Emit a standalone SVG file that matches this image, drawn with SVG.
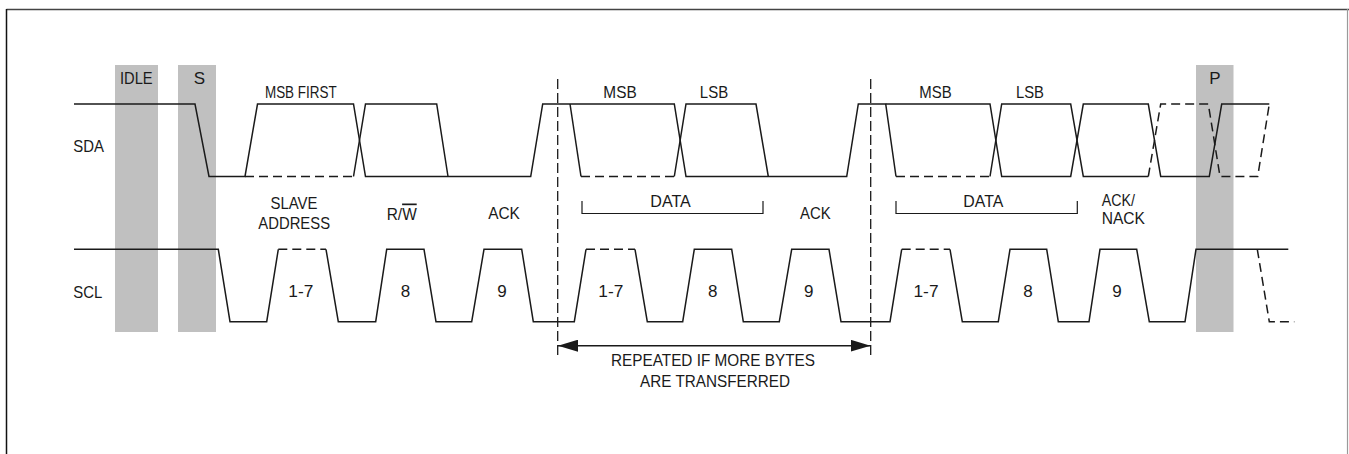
<svg xmlns="http://www.w3.org/2000/svg" width="1349" height="454" viewBox="0 0 1349 454">
<style>
.sig{fill:none;stroke:#1a1a1a;stroke-width:1.5;stroke-linejoin:miter}
.dash{fill:none;stroke:#1a1a1a;stroke-width:1.5;stroke-dasharray:9 5}
.vdash{fill:none;stroke:#1a1a1a;stroke-width:1.3;stroke-dasharray:10 4}
.brk{fill:none;stroke:#1a1a1a;stroke-width:1.2}
.bar{fill:#c0c0c0}
text{font-family:"Liberation Sans",Arial,sans-serif;font-size:17px;fill:#1a1a1a;text-anchor:middle}
.l{text-anchor:start}
</style>
<defs>
<marker id="ah" viewBox="0 0 20 12" refX="20" refY="6" markerWidth="20" markerHeight="12" markerUnits="userSpaceOnUse" orient="auto-start-reverse">
<path d="M0,0 L20,6 L0,12 Z" fill="#1a1a1a"/>
</marker>
</defs>
<g id="frame">
<line x1="6.5" y1="9.5" x2="1349" y2="9.5" stroke="#444" stroke-width="1.5"/>
<line x1="6.5" y1="9" x2="6.5" y2="454" stroke="#111" stroke-width="1.5"/>
<line x1="1347.5" y1="9" x2="1347.5" y2="454" stroke="#9a9a9a" stroke-width="1.2"/>
</g>
<g id="bars">
<rect id="idle-bar" class="bar" x="115" y="65" width="43" height="267"/>
<rect id="start-bar" class="bar" x="178" y="65" width="38" height="267"/>
<rect id="stop-bar" class="bar" x="1196" y="65" width="37.5" height="267"/>
</g>
<g id="sda">
<path class="sig" d="M74,104 H195 L209,176.5 H245 L257.5,104 H353.5 L365.5,176.5 H530.7 L542.7,104 H674.3 L686,176.5 H846.7 L858.3,104 H885.7 L896,176.5"/>
<path class="sig" d="M353.5,176.5 L365.5,104 H436.7 L448,176.5"/>
<path class="sig" d="M570,104 L581,176.5"/>
<path class="sig" d="M674.3,176.5 L686,104 H756 L768.3,176.5"/>
<path class="sig" d="M885.7,104 H990 L1001.7,176.5 H1070.7 L1083.3,104 H1148.3 L1160.7,176.5 H1209.3 L1221.7,104 H1269.3"/>
<path class="sig" d="M990,176.5 L1001.7,104 H1070.7 L1083.3,176.5 H1148.3"/>
<path class="dash" d="M245,176.5 H353.5"/>
<path class="dash" d="M581,176.5 H674.3"/>
<path class="dash" d="M896,176.5 H990"/>
<path class="dash" d="M1148.3,176.5 L1160.7,104 H1208.3 L1220,176.5 H1257.7 L1269.3,104"/>
</g>
<g id="scl">
<path class="sig" d="M74,249.3 H218.3 L230,321.7 H266.7 L278.3,249.3"/>
<path class="sig" d="M326,249.3 L338.3,321.7 H375.7 L386.7,249.3 H424 L436,321.7 H471.7 L484,249.3 H521.7 L533.3,321.7 H574.3 L586,249.3"/>
<path class="sig" d="M635,249.3 L647.3,321.7 H682.7 L694.3,249.3 H731.7 L743.3,321.7 H779.3 L791.7,249.3 H829 L841,321.7 H890 L901.7,249.3"/>
<path class="sig" d="M950,249.3 L962.3,321.7 H998.3 L1010,249.3 H1046.7 L1058.3,321.7 H1089 L1100,249.3 H1136.7 L1149.3,321.7 H1185 L1196,249.3 H1288.3"/>
<path class="dash" d="M278.3,249.3 H326"/>
<path class="dash" d="M586,249.3 H635"/>
<path class="dash" d="M901.7,249.3 H950"/>
<path class="dash" d="M1257.3,249.3 L1269.3,321.7 H1294.3"/>
</g>
<g id="repeat">
<line class="vdash" x1="557.7" y1="79" x2="557.7" y2="358"/>
<line class="vdash" x1="870.7" y1="79" x2="870.7" y2="358"/>
<line x1="558" y1="345.7" x2="870.5" y2="345.7" stroke="#1a1a1a" stroke-width="1.5" marker-start="url(#ah)" marker-end="url(#ah)"/>
<text x="713" y="365.7" textLength="204" lengthAdjust="spacingAndGlyphs">REPEATED IF MORE BYTES</text>
<text x="715" y="386.7" textLength="150" lengthAdjust="spacingAndGlyphs">ARE TRANSFERRED</text>
</g>
<g id="brackets">
<path class="brk" d="M582,201 V213.5 H763 V201"/>
<path class="brk" d="M896,201 V213.5 H1077.3 V201"/>
</g>
<g id="labels">
<text x="136.3" y="83.5" textLength="32.7" lengthAdjust="spacingAndGlyphs">IDLE</text>
<text x="199.5" y="83.5">S</text>
<text x="1215" y="83.5">P</text>
<text x="300.8" y="98.3" textLength="71.7" lengthAdjust="spacingAndGlyphs">MSB FIRST</text>
<text x="620" y="98.3" textLength="33.3" lengthAdjust="spacingAndGlyphs">MSB</text>
<text x="714" y="98.3" textLength="28.3" lengthAdjust="spacingAndGlyphs">LSB</text>
<text x="935.5" y="98.3" textLength="32.4" lengthAdjust="spacingAndGlyphs">MSB</text>
<text x="1030" y="98.3" textLength="28" lengthAdjust="spacingAndGlyphs">LSB</text>
<text class="l" x="73.3" y="151.7" textLength="30.7" lengthAdjust="spacingAndGlyphs">SDA</text>
<text class="l" x="73.3" y="298.3" textLength="29" lengthAdjust="spacingAndGlyphs">SCL</text>
<text x="294" y="208.5" textLength="47" lengthAdjust="spacingAndGlyphs">SLAVE</text>
<text x="294.2" y="229.3" textLength="71.7" lengthAdjust="spacingAndGlyphs">ADDRESS</text>
<text x="401.7" y="219.5" textLength="30" lengthAdjust="spacingAndGlyphs">R/<tspan text-decoration="overline">W</tspan></text>
<text x="504" y="219.3" textLength="31.7" lengthAdjust="spacingAndGlyphs">ACK</text>
<text x="670.6" y="207" textLength="40.5" lengthAdjust="spacingAndGlyphs">DATA</text>
<text x="815.3" y="219.3" textLength="30.7" lengthAdjust="spacingAndGlyphs">ACK</text>
<text x="983.3" y="207" textLength="40" lengthAdjust="spacingAndGlyphs">DATA</text>
<text class="l" x="1101.7" y="205.7" textLength="33.3" lengthAdjust="spacingAndGlyphs">ACK/</text>
<text class="l" x="1101.7" y="223.5" textLength="43.3" lengthAdjust="spacingAndGlyphs">NACK</text>
<text x="300.8" y="296.7" textLength="25" lengthAdjust="spacingAndGlyphs">1-7</text>
<text x="405.5" y="296.7">8</text>
<text x="502" y="296.7">9</text>
<text x="610.8" y="296.7" textLength="25" lengthAdjust="spacingAndGlyphs">1-7</text>
<text x="712.7" y="296.7">8</text>
<text x="808.7" y="296.7">9</text>
<text x="926" y="296.7" textLength="25" lengthAdjust="spacingAndGlyphs">1-7</text>
<text x="1028" y="296.7">8</text>
<text x="1117" y="296.7">9</text>
</g>
</svg>
